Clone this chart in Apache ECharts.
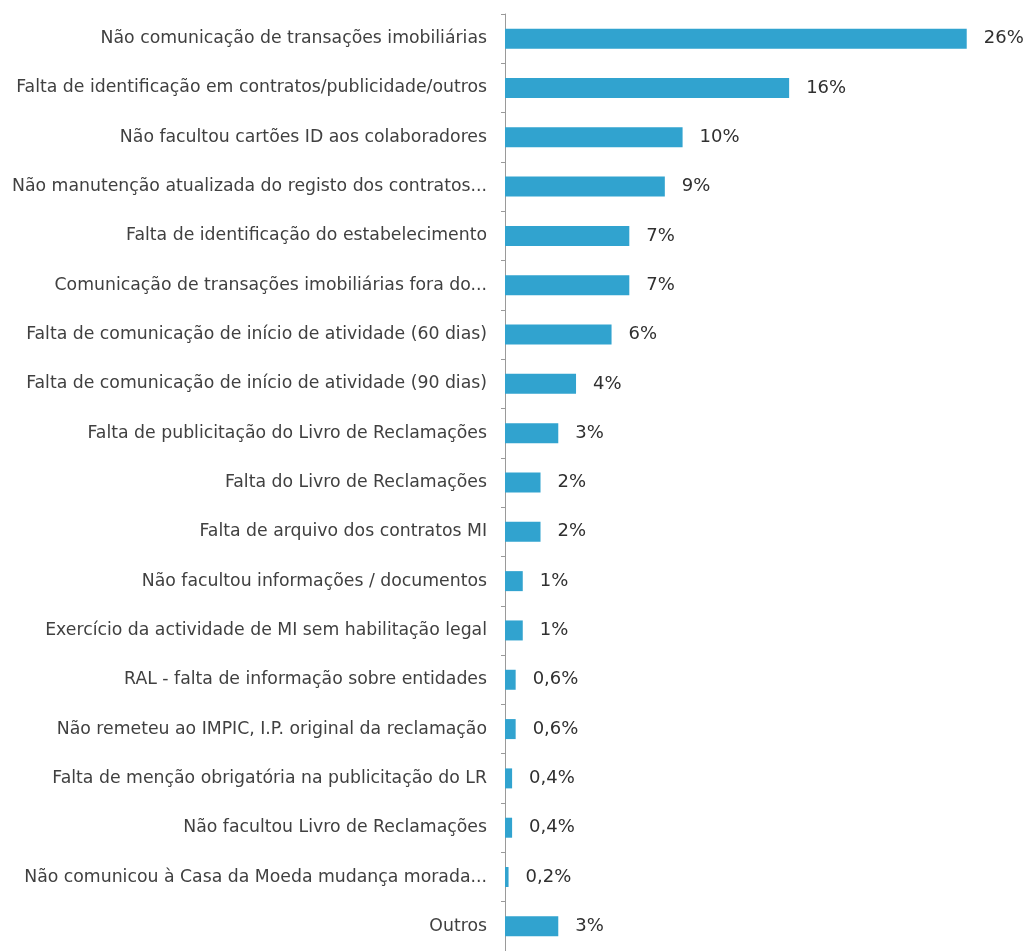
<!DOCTYPE html>
<html>
<head>
<meta charset="utf-8">
<script src="https://cdn.jsdelivr.net/npm/echarts@6/dist/echarts.min.js"></script>
<style>
  html, body { margin: 0; padding: 0; background: #ffffff; }
  #chart { width: 1028px; height: 951px; }
</style>
</head>
<body>
<div id="chart"></div>
<script>
// Infraction categories, top to bottom
const categories = [
  'Não comunicação de transações imobiliárias',
  'Falta de identificação em contratos/publicidade/outros',
  'Não facultou cartões ID aos colaboradores',
  'Não manutenção atualizada do registo dos contratos...',
  'Falta de identificação do estabelecimento',
  'Comunicação de transações imobiliárias fora do...',
  'Falta de comunicação de início de atividade (60 dias)',
  'Falta de comunicação de início de atividade (90 dias)',
  'Falta de publicitação do Livro de Reclamações',
  'Falta do Livro de Reclamações',
  'Falta de arquivo dos contratos MI',
  'Não facultou informações / documentos',
  'Exercício da actividade de MI sem habilitação legal',
  'RAL - falta de informação sobre entidades',
  'Não remeteu ao IMPIC, I.P. original da reclamação',
  'Falta de menção obrigatória na publicitação do LR',
  'Não facultou Livro de Reclamações',
  'Não comunicou à Casa da Moeda mudança morada...',
  'Outros'
];

// Share of infractions (%)
const shares = [26, 16, 10, 9, 7, 7, 6, 4, 3, 2, 2, 1, 1, 0.6, 0.6, 0.4, 0.4, 0.2, 3];

const chart = echarts.init(document.getElementById('chart'));

chart.setOption({
  animation: false,
  backgroundColor: '#ffffff',
  grid: { left: 505, top: 14, width: 515, height: 942, containLabel: false },
  xAxis: {
    type: 'value',
    min: 0,
    max: 29,
    show: false
  },
  yAxis: {
    type: 'category',
    inverse: true,
    data: categories,
    axisLine: { show: true, lineStyle: { color: '#9a9a9a', width: 1 } },
    axisTick: { show: true, length: 4, lineStyle: { color: '#9a9a9a' } },
    axisLabel: {
      margin: 18,
      color: '#404040',
      fontFamily: 'DejaVu Sans',
      fontSize: 17.3
    },
    splitLine: { show: false }
  },
  series: [{
    type: 'bar',
    data: shares,
    barWidth: 20,
    itemStyle: { color: '#31a3cf' },
    label: {
      show: true,
      position: 'right',
      distance: 17,
      color: '#303030',
      fontFamily: 'DejaVu Sans',
      fontSize: 18,
      formatter: p => String(p.value).replace('.', ',') + '%'
    }
  }]
});
</script>
</body>
</html>
